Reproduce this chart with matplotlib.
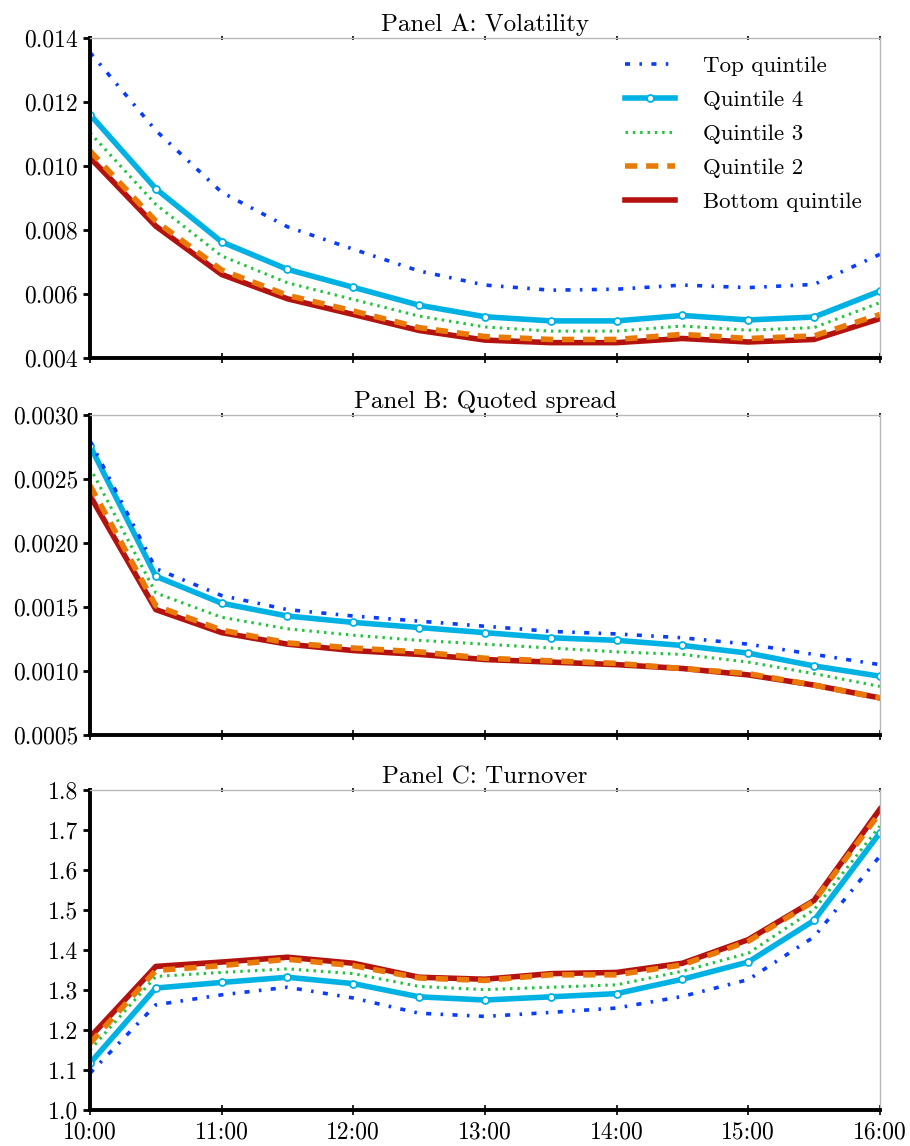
import matplotlib
matplotlib.use('Agg')
import matplotlib.pyplot as plt
from matplotlib.ticker import FormatStrFormatter, FixedLocator

plt.rcParams['font.family'] = 'serif'
plt.rcParams['font.serif'] = ['cmr10']
plt.rcParams['axes.formatter.use_mathtext'] = True

# half-hour bins, in hours
hours = [10, 10.5, 11, 11.5, 12, 12.5, 13, 13.5, 14, 14.5, 15, 15.5, 16]
hour_labels = ['10:00', '11:00', '12:00', '13:00', '14:00', '15:00', '16:00']

series_names = ['Top quintile', 'Quintile 4', 'Quintile 3', 'Quintile 2', 'Bottom quintile']

# Panel A: volatility
vol_top = [0.01355, 0.01111, 0.00918, 0.00810, 0.00740, 0.00672, 0.00628, 0.00612, 0.00615, 0.00628, 0.00620, 0.00630, 0.00724]
vol_q4 = [0.01161, 0.00929, 0.00763, 0.00677, 0.00621, 0.00565, 0.00529, 0.00516, 0.00516, 0.00533, 0.00519, 0.00528, 0.00609]
vol_q3 = [0.01104, 0.00880, 0.00719, 0.00635, 0.00583, 0.00531, 0.00497, 0.00484, 0.00484, 0.00500, 0.00487, 0.00495, 0.00573]
vol_q2 = [0.01047, 0.00828, 0.00675, 0.00596, 0.00547, 0.00495, 0.00467, 0.00458, 0.00458, 0.00474, 0.00461, 0.00469, 0.00536]
vol_bottom = [0.01026, 0.00812, 0.00661, 0.00585, 0.00536, 0.00486, 0.00456, 0.00448, 0.00448, 0.00461, 0.00450, 0.00458, 0.00523]

# Panel B: quoted spread
spr_top = [0.00280, 0.00180, 0.00159, 0.00148, 0.00143, 0.00139, 0.00135, 0.00131, 0.00129, 0.00126, 0.00121, 0.00113, 0.00105]
spr_q4 = [0.00276, 0.00174, 0.00153, 0.00143, 0.00138, 0.00134, 0.00130, 0.00126, 0.00124, 0.00120, 0.00114, 0.00104, 0.00096]
spr_q3 = [0.00259, 0.00161, 0.00142, 0.00133, 0.00128, 0.00124, 0.00121, 0.00118, 0.00115, 0.00113, 0.00107, 0.00098, 0.00088]
spr_q2 = [0.00245, 0.00151, 0.00132, 0.00122, 0.00118, 0.00115, 0.00110, 0.00108, 0.00106, 0.00102, 0.00098, 0.00089, 0.00079]
spr_bottom = [0.00237, 0.00148, 0.00130, 0.00121, 0.00116, 0.00113, 0.00109, 0.00107, 0.00105, 0.00102, 0.00097, 0.00089, 0.00079]

# Panel C: turnover
turn_top = [1.092, 1.263, 1.288, 1.307, 1.280, 1.242, 1.234, 1.244, 1.255, 1.284, 1.326, 1.433, 1.635]
turn_q4 = [1.117, 1.305, 1.319, 1.332, 1.316, 1.283, 1.275, 1.283, 1.291, 1.327, 1.370, 1.474, 1.693]
turn_q3 = [1.150, 1.334, 1.344, 1.353, 1.341, 1.309, 1.301, 1.307, 1.313, 1.347, 1.392, 1.501, 1.710]
turn_q2 = [1.167, 1.349, 1.361, 1.377, 1.361, 1.330, 1.324, 1.338, 1.338, 1.363, 1.422, 1.522, 1.743]
turn_bottom = [1.182, 1.359, 1.370, 1.382, 1.367, 1.332, 1.327, 1.341, 1.344, 1.367, 1.426, 1.524, 1.752]

panels = [
    ('Panel A: Volatility', [vol_top, vol_q4, vol_q3, vol_q2, vol_bottom], (0.004, 0.014), 0.002, '%.3f'),
    ('Panel B: Quoted spread', [spr_top, spr_q4, spr_q3, spr_q2, spr_bottom], (0.0005, 0.003), 0.0005, '%.4f'),
    ('Panel C: Turnover', [turn_top, turn_q4, turn_q3, turn_q2, turn_bottom], (1.0, 1.8), 0.1, '%.1f'),
]

styles = [
    dict(color='#0a3cff', lw=2.6, ls=(0, (1.4, 2.6, 0.7, 2.6))),
    dict(color='#00b2e3', lw=4, ls='-', marker='o', ms=5, mfc='white', mec='#00b2e3', mew=1.3),
    dict(color='#22c43c', lw=2.2, ls=(0, (0.8, 1.6))),
    dict(color='#ea7a08', lw=4, ls=(0, (2.2, 1.6))),
    dict(color='#b3120f', lw=4, ls='-'),
]

fig = plt.figure(figsize=(9.1, 11.46), dpi=100)
bottoms = [0.6876, 0.3586, 0.0314]

for i, (title, data, ylim, step, fmt) in enumerate(panels):
    ax = fig.add_axes([0.0989, bottoms[i], 0.868, 0.2792])
    lines = {}
    for k in [4, 3, 2, 1, 0]:
        lines[k], = ax.plot(hours, data[k], label=series_names[k], **styles[k])
    ax.set_xlim(10, 16)
    ax.set_ylim(*ylim)
    n = int(round((ylim[1] - ylim[0]) / step))
    ax.yaxis.set_major_locator(FixedLocator([ylim[0] + j * step for j in range(n + 1)]))
    ax.yaxis.set_major_formatter(FormatStrFormatter(fmt))
    ax.set_xticks([10, 11, 12, 13, 14, 15, 16])
    if i == 2:
        ax.set_xticklabels(hour_labels)
    else:
        ax.set_xticklabels([])
    ax.set_title(title, fontsize=18, pad=5)
    ax.tick_params(axis='y', labelsize=17, direction='out', length=5, width=2)
    ax.tick_params(axis='x', labelsize=17, direction='inout', length=7, width=1.2,
                   top=True, bottom=True, pad=5)
    for t in ax.xaxis.get_major_ticks():
        t.tick2line.set_markersize(3)
    for side in ['top', 'right']:
        ax.spines[side].set_color('#b8b8b8')
        ax.spines[side].set_linewidth(1.0)
    for side in ['left', 'bottom']:
        ax.spines[side].set_color('black')
        ax.spines[side].set_linewidth(2.8)
    if i == 0:
        ax.legend([lines[k] for k in range(5)], series_names, loc='upper right',
                  frameon=False, fontsize=16.5, handlelength=2.2, labelspacing=0.6,
                  borderaxespad=0.4, handletextpad=1.2)

fig.savefig('out.png', dpi=100)
